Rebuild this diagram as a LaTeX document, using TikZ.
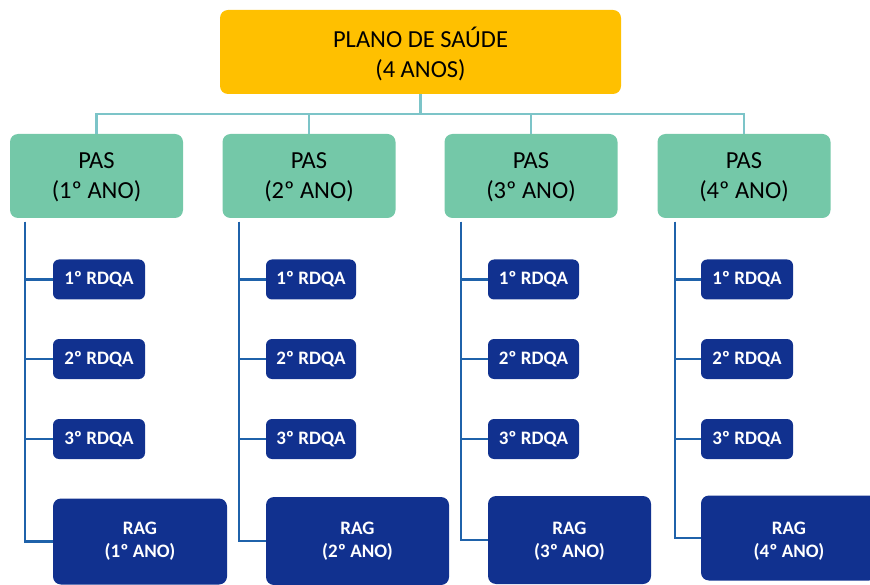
\documentclass[tikz,border=0pt]{standalone}
\usepackage{fontspec}
\setmainfont{Carlito}
\definecolor{gold}{RGB}{255,192,0}
\definecolor{pasgreen}{RGB}{116,200,168}
\definecolor{navy}{RGB}{17,49,143}
\definecolor{tealline}{RGB}{124,196,200}
\definecolor{blueline}{RGB}{31,98,170}
\newcommand{\twolines}[3]{\raisebox{#1}[\height][\depth]{\begin{tabular}{@{}c@{}}#2\\#3\end{tabular}}}
\tikzset{
  topbox/.style={fill=gold, rounded corners=8pt, minimum width=401pt, minimum height=84pt, font=\fontsize{24.5}{30}\selectfont, inner sep=0pt},
  pasbox/.style={fill=pasgreen, rounded corners=8pt, minimum width=173pt, minimum height=84pt, font=\fontsize{24.5}{30}\selectfont, inner sep=0pt},
  rdqabox/.style={fill=navy, text=white, rounded corners=6pt, minimum width=92pt, minimum height=40pt, font=\bfseries\fontsize{19}{22}\selectfont, inner sep=0pt},
  ragbox/.style={fill=navy, text=white, rounded corners=8pt, minimum height=86pt, font=\bfseries\fontsize{19}{23}\selectfont, inner sep=0pt},
  tline/.style={draw=tealline, line width=2.2pt},
  bline/.style={draw=blueline, line width=2.2pt}
}
\begin{document}
\begin{tikzpicture}[x=1pt,y=-1pt]
\useasboundingbox (0,0) rectangle (870,585);
\node[topbox] (top) at (420.5,52) {\twolines{-5pt}{PLANO DE SAÚDE}{(4 ANOS)}};
\coordinate (bus) at (420.5,114);
\node[pasbox] (pas1) at (96.5,176) {\twolines{-2pt}{PAS}{(1º ANO)}};
\node[pasbox] (pas2) at (309,176) {\twolines{-2pt}{PAS}{(2º ANO)}};
\node[pasbox] (pas3) at (531,176) {\twolines{-2pt}{PAS}{(3º ANO)}};
\node[pasbox] (pas4) at (744,176) {\twolines{-2pt}{PAS}{(4º ANO)}};
\draw[tline] (top.south) -- (bus);
\foreach \i in {1,2,3,4} { \draw[tline] (pas\i.north) |- (bus); }
% column 1
\coordinate (s1) at (25,222);
\node[rdqabox] (a1) at (99,279.5) {1º RDQA};
\node[rdqabox] (b1) at (99,359) {2º RDQA};
\node[rdqabox] (c1) at (99,439) {3º RDQA};
\node[ragbox, minimum width=174pt] (g1) at (140,541.5) {\twolines{0pt}{RAG}{(1º ANO)}};
% column 2
\coordinate (s2) at (239,222);
\node[rdqabox, minimum width=90pt] (a2) at (311,279.5) {1º RDQA};
\node[rdqabox, minimum width=90pt] (b2) at (311,359) {2º RDQA};
\node[rdqabox, minimum width=90pt] (c2) at (311,439) {3º RDQA};
\node[ragbox, minimum width=183pt, minimum height=88pt] (g2) at (357.5,541) {\twolines{-0.5pt}{RAG}{(2º ANO)}};
% column 3
\coordinate (s3) at (461,222);
\node[rdqabox, minimum width=91pt] (a3) at (533.5,279.5) {1º RDQA};
\node[rdqabox, minimum width=91pt] (b3) at (533.5,359) {2º RDQA};
\node[rdqabox, minimum width=91pt] (c3) at (533.5,439) {3º RDQA};
\node[ragbox, minimum width=163pt, minimum height=88pt] (g3) at (569.5,540) {\twolines{-1pt}{RAG}{(3º ANO)}};
% column 4
\coordinate (s4) at (675,222);
\node[rdqabox] (a4) at (747,279.5) {1º RDQA};
\node[rdqabox] (b4) at (747,359) {2º RDQA};
\node[rdqabox] (c4) at (747,439) {3º RDQA};
\node[ragbox, minimum width=176pt, minimum height=85pt] (g4) at (789,538) {\twolines{-3pt}{RAG}{(4º ANO)}};
\foreach \i in {1,2,3,4} {
  \draw[bline] (s\i) |- (g\i.west);
  \draw[bline] (s\i) |- (a\i.west);
  \draw[bline] (s\i) |- (b\i.west);
  \draw[bline] (s\i) |- (c\i.west);
}
\end{tikzpicture}
\end{document}
